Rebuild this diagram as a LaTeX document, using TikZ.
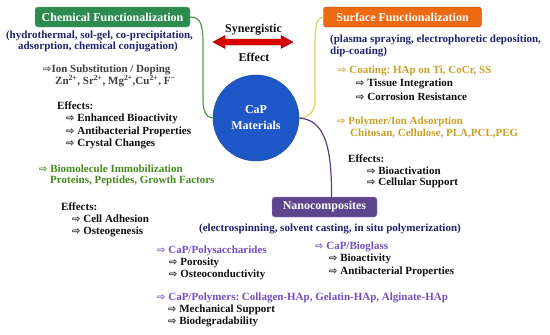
\documentclass[tikz,border=0pt]{standalone}
\usepackage{fontspec}
\setmainfont{Liberation Serif}
\newfontfamily\arrfont{DejaVu Sans}
\usetikzlibrary{arrows.meta}
\frenchspacing
\definecolor{gbox}{RGB}{46,139,80}
\definecolor{obox}{RGB}{238,106,18}
\definecolor{pbox}{RGB}{94,70,142}
\definecolor{capblue}{RGB}{30,88,200}
\definecolor{navy}{RGB}{34,34,110}
\definecolor{goldt}{RGB}{200,160,40}
\definecolor{greent}{RGB}{70,138,30}
\definecolor{purplet}{RGB}{112,80,192}
\definecolor{gline}{RGB}{90,150,80}
\definecolor{yline}{RGB}{215,215,90}
\definecolor{pline}{RGB}{90,60,140}
\definecolor{darkt}{RGB}{15,15,15}
\newcommand{\myarr}{{\arrfont\bfseries\fontsize{10}{10}\selectfont ⇨}}
\tikzset{
  tx/.style={anchor=west, inner sep=0pt, text=darkt, font=\bfseries\fontsize{11}{12}\selectfont},
  txc/.style={tx, anchor=center},
  titlebox/.style={rounded corners=3pt, text=white, inner sep=0pt, minimum height=20pt,
     font=\bfseries\fontsize{12}{13}\selectfont},
  conn/.style={line width=1.2pt}
}
\begin{document}
\begin{tikzpicture}[x=1pt,y=-1pt]
\useasboundingbox (0,0) rectangle (550,335);
% title boxes
\node[titlebox, fill=gbox, draw=gbox!70!white, minimum width=155pt] (cf) at (112.5,17) {Chemical Functionalization};
\node[titlebox, fill=obox, draw=obox!60!black, minimum width=158pt] (sf) at (402.5,17) {Surface Functionalization};
\node[titlebox, fill=pbox, draw=pbox!70!white, minimum width=105pt] (nc) at (324.5,207) {Nanocomposites};
% central circle
\node[circle, fill=capblue, draw=capblue!70!black, minimum size=86pt, inner sep=0pt, align=center,
      text=white, font=\bfseries\fontsize{12}{16}\selectfont] (cap) at (256,118) {CaP\\Materials};
% connectors
\draw[conn, gline] (cf.east) .. controls (201,17) and (203,25) .. (203,45) -- (203,100)
   .. controls (203,112) and (207,118) .. (cap.west);
\draw[conn, yline] (sf.west) .. controls (317,17) and (315,25) .. (315,45) -- (315,100)
   .. controls (315,112) and (308,118) .. (cap.east);
\draw[conn, pline] (cap.east) .. controls (322,120) and (332,140) .. ([xshift=7pt]nc.north);
% synergistic arrow
\coordinate (la) at (213,42);
\fill[red!85!black, draw=red!45!black, line width=0.4pt] (la) -- ++(12,-6.5) -- ++(0,3.5) -- ++(56,0) -- ++(0,-3.5)
   -- ++(12,6.5) -- ++(-12,6.5) -- ++(0,-3.5) -- ++(-56,0) -- ++(0,3.5) -- cycle;
\node[txc, font=\bfseries\fontsize{12}{13}\selectfont] (syn) at (253.5,30) {Synergistic};
\node[txc, font=\bfseries\fontsize{12}{13}\selectfont] (eff) at (254,57) {Effect};
% left column
\node[txc, text=navy] (l1) at (99.5,36) {(hydrothermal, sol-gel, co-precipitation,};
\node[txc, text=navy] (l2) at (98,47) {adsorption, chemical conjugation)};
\node[tx, text=darkt!80!white] (l3) at (43,70) {\myarr Ion Substitution / Doping};
\node[tx, text=darkt!80!white] (l4) at (55,81) {Zn\textsuperscript{2+}, Sr\textsuperscript{2+}, Mg\textsuperscript{2+},Cu\textsuperscript{2+}, F\textsuperscript{−}};
\node[tx] (l5) at (57,106) {Effects:};
\node[tx] (l6) at (66,119) {\myarr\ Enhanced Bioactivity};
\node[tx] (l7) at (66,132) {\myarr\ Antibacterial Properties};
\node[tx] (l8) at (66,144) {\myarr\ Crystal Changes};
\node[tx, text=greent] (l9) at (39,169) {\myarr\ Biomolecule Immobilization};
\node[tx, text=greent] (l10) at (50,181) {Proteins, Peptides, Growth Factors};
\node[tx] (l11) at (61,207) {Effects:};
\node[tx] (l12) at (72,219) {\myarr\ Cell Adhesion};
\node[tx] (l13) at (72,232) {\myarr\ Osteogenesis};
% right column
\node[tx, text=navy] (r1) at (330,40) {(plasma spraying, electrophoretic deposition,};
\node[tx, text=navy] (r2) at (330,52) {dip-coating)};
\node[tx, text=goldt] (r3) at (338,71) {\myarr\ Coating: HAp on Ti, CoCr, SS};
\node[tx] (r4) at (356,84) {\myarr\ Tissue Integration};
\node[tx] (r5) at (356,97) {\myarr\ Corrosion Resistance};
\node[tx, text=goldt] (r6) at (337,122) {\myarr\ Polymer/Ion Adsorption};
\node[tx, text=goldt] (r7) at (350,134) {Chitosan, Cellulose, PLA,PCL,PEG};
\node[tx] (r8) at (348,159) {Effects:};
\node[tx] (r9) at (367,171) {\myarr\ Bioactivation};
\node[tx] (r10) at (367,183) {\myarr\ Cellular Support};
% bottom
\node[txc, text=navy] (b0) at (330,229) {(electrospinning, solvent casting, in situ polymerization)};
\node[tx, text=purplet] (b1) at (157,251) {\myarr\ CaP/Polysaccharides};
\node[tx] (b2) at (169,263) {\myarr\ Porosity};
\node[tx] (b3) at (169,275) {\myarr\ Osteoconductivity};
\node[tx, text=purplet] (b4) at (315,247) {\myarr\ CaP/Bioglass};
\node[tx] (b5) at (329,259) {\myarr\ Bioactivity};
\node[tx] (b6) at (329,272) {\myarr\ Antibacterial Properties};
\node[tx, text=purplet] (b7) at (157,298) {\myarr\ CaP/Polymers: Collagen-HAp, Gelatin-HAp, Alginate-HAp};
\node[tx] (b8) at (168,310) {\myarr\ Mechanical Support};
\node[tx] (b9) at (168,322) {\myarr\ Biodegradability};
\end{tikzpicture}
\end{document}
